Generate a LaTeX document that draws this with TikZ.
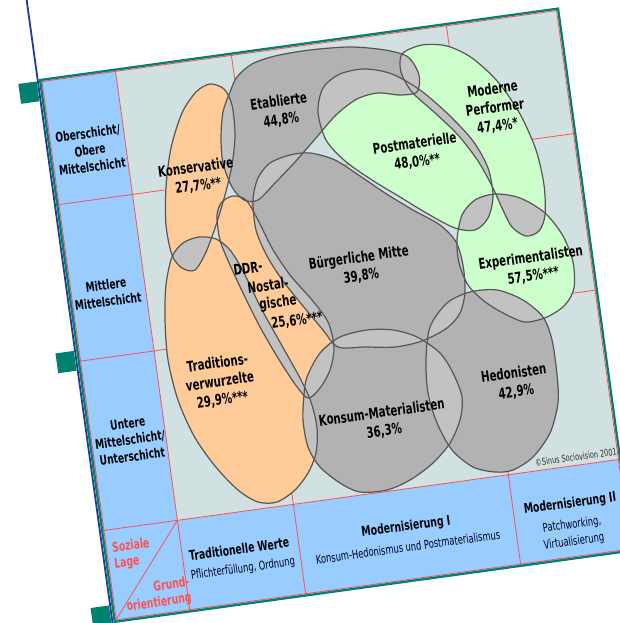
\documentclass[tikz,border=0pt]{standalone}
\usepackage{fontspec}
\setmainfont{DejaVu Sans}[FakeStretch=0.69]
\definecolor{bgc}{HTML}{D1E0E0}
\definecolor{cellc}{HTML}{99CCFF}
\definecolor{orc}{HTML}{FFCC99}
\definecolor{grc}{HTML}{CCFFCC}
\definecolor{gyc}{HTML}{B2B2B2}
\definecolor{ovc}{HTML}{C2C2C2}
\definecolor{outc}{HTML}{555555}
\definecolor{tealc}{HTML}{00806E}
\definecolor{navyc}{HTML}{1F3C96}
\definecolor{redc}{HTML}{FF5050}
% shapes (image pixel coordinates)
\expandafter\def\csname sh1\endcsname{plot[smooth cycle] coordinates {(210,84) (224,89) (232,105) (235,135) (232,165) (225,195) (216,225) (206,252) (195,270) (182,268) (172,255) (166,225) (166,187) (171,148) (182,113) (196,92)}}
\expandafter\def\csname sh2\endcsname{plot[smooth cycle] coordinates {(230,92) (237,77) (252,64) (275,56) (310,50) (350,47) (385,50) (408,57) (419,75) (417,92) (400,95) (378,93) (357,99) (336,115) (316,138) (295,162) (275,183) (258,200) (244,200) (232,187) (223,163) (221,138) (223,112)}}
\expandafter\def\csname sh3\endcsname{plot[smooth cycle] coordinates {(318,112) (323,88) (340,74) (365,69) (392,74) (420,90) (448,114) (473,141) (488,168) (493,196) (488,218) (475,230) (455,228) (428,214) (400,197) (372,180) (345,161) (326,140)}}
\expandafter\def\csname sh4\endcsname{plot[smooth cycle] coordinates {(402,54) (422,45) (447,46) (472,58) (498,82) (520,114) (536,150) (544,185) (545,215) (539,231) (526,236) (512,227) (502,208) (492,186) (478,161) (458,135) (434,112) (412,92) (401,72)}}
\expandafter\def\csname sh5\endcsname{plot[smooth cycle] coordinates {(253,200) (258,178) (270,163) (290,155) (310,153) (335,160) (360,176) (385,193) (413,210) (440,225) (456,242) (463,265) (465,292) (460,313) (447,328) (422,341) (395,347) (365,347) (338,347) (323,330) (303,306) (283,281) (267,256) (256,230)}}
\expandafter\def\csname sh6\endcsname{plot[smooth cycle] coordinates {(233,196) (246,200) (258,220) (272,248) (290,275) (312,300) (328,322) (334,347) (330,370) (320,388) (308,398) (295,384) (278,358) (260,327) (244,295) (230,265) (220,240) (217,215) (222,202)}}
\expandafter\def\csname sh7\endcsname{plot[smooth cycle] coordinates {(172,257) (183,243) (199,237) (216,239) (230,250) (243,271) (261,308) (281,344) (300,378) (311,402) (317,428) (316,453) (308,473) (295,490) (277,502) (258,502) (238,490) (215,466) (194,436) (178,400) (168,360) (165,320) (166,285)}}
\expandafter\def\csname sh8\endcsname{plot[smooth cycle] coordinates {(307,377) (320,353) (340,337) (367,330) (393,330) (417,337) (440,353) (453,373) (462,397) (460,420) (450,443) (433,463) (410,480) (387,490) (360,492) (340,483) (320,467) (308,447) (303,420) (304,395)}}
\expandafter\def\csname sh9\endcsname{plot[smooth cycle] coordinates {(430,327) (447,303) (470,292) (497,290) (523,300) (543,317) (552,340) (557,375) (558,403) (550,433) (533,457) (513,470) (495,472) (473,467) (452,450) (437,423) (428,393) (426,360)}}
\expandafter\def\csname sh10\endcsname{plot[smooth cycle] coordinates {(457,240) (462,215) (475,200) (495,194) (520,198) (545,213) (563,236) (573,262) (574,288) (565,305) (547,317) (525,322) (503,313) (484,301) (468,285) (459,263)}}
\tikzset{
  rt/.style={rotate=7.85},
  lab/.style={rt, align=center, inner sep=0pt, text=black, font=\fontsize{14.8}{18.5}\selectfont\bfseries},
  side/.style={rt, align=center, inner sep=0pt, text=black, font=\fontsize{13.2}{16.7}\selectfont\bfseries},
  head/.style={rt, inner sep=0pt, text=black, font=\fontsize{13.5}{15}\selectfont\bfseries},
  sub/.style={rt, inner sep=0pt, text=black!85!blue, font=\fontsize{12.1}{17}\selectfont},
  redlab/.style={rt, inner sep=0pt, text=redc, font=\fontsize{13.4}{16}\selectfont\bfseries},
  gridl/.style={redc, line width=0.8pt},
  outl/.style={outc, line width=1.2pt}
}
\begin{document}
\begin{tikzpicture}[x=1pt,y=-1pt]
\useasboundingbox (0,0) rectangle (620,623);
\clip (0,0) rectangle (620,623);
\fill[white] (0,0) rectangle (620,623);
% rotated frame
\begin{scope}[shift={(40,80)}, rotate=7.85]
  \fill[bgc] (0,0) rectangle (523,547);
  \fill[cellc] (0,0) rectangle (76,547);
  \fill[cellc] (0,455) rectangle (523,547);
  \draw[gridl] (76,0) -- (76,547);
  \draw[gridl] (193,0) -- (193,547);
  \draw[gridl] (410,0) -- (410,547);
  \draw[gridl] (0,126) -- (523,126);
  \draw[gridl] (0,284) -- (523,284);
  \draw[gridl] (0,455) -- (523,455);
  \draw[gridl] (76,455) -- (0,547);
  \draw[gridl] (1.8,1.8) rectangle (521.2,545.2);
  \draw[tealc, line width=2.2pt] (0,0) rectangle (523,547);
  \draw[navyc, line width=1.8pt] (-2.3,-95) -- (-2.3,560);
  \fill[tealc] (-22,1) rectangle (-3.5,21);
  \fill[tealc] (-22,273) rectangle (-3.5,293);
  \fill[tealc] (-22,530) rectangle (-3.5,550);
\end{scope}
% milieu shapes
\fill[orc] \csname sh1\endcsname;
\fill[gyc] \csname sh2\endcsname;
\fill[grc] \csname sh3\endcsname;
\fill[grc] \csname sh4\endcsname;
\fill[gyc] \csname sh5\endcsname;
\fill[orc] \csname sh6\endcsname;
\fill[orc] \csname sh7\endcsname;
\fill[gyc] \csname sh8\endcsname;
\fill[gyc] \csname sh9\endcsname;
\fill[grc] \csname sh10\endcsname;
% overlaps
\foreach \i in {1,...,10}{
  \foreach \j in {1,...,10}{
    \ifnum\j>\i
      \expandafter\let\expandafter\pA\csname sh\i\endcsname
      \expandafter\let\expandafter\pB\csname sh\j\endcsname
      \begin{scope}
        \clip \pA;
        \fill[ovc] \pB;
      \end{scope}
    \fi
  }
}
\foreach \i in {1,...,10}{
  \expandafter\let\expandafter\pA\csname sh\i\endcsname
  \draw[outl] \pA;
}
% labels
\node[side] (ober) at (90,150) {Oberschicht/\\Obere\\Mittelschicht};
\node[side] (mitt) at (107,293) {Mittlere\\Mittelschicht};
\node[side] (unte) at (130,440) {Untere\\Mittelschicht/\\Unterschicht};
\node[lab] (kons) at (197,177) {Konservative\\27,7\%**};
\node[lab] (etab) at (280,111) {Etablierte\\44,8\%};
\node[lab] (post) at (416,153) {Postmaterielle\\48,0\%**};
\node[lab] (mode) at (495,108) {Moderne\\Performer\\47,4\%*};
\node[lab] (buer) at (360,267) {Bürgerliche Mitte\\39,8\%};
\node[lab] (expe) at (532,267) {Experimentalisten\\57,5\%***};
\node[lab] (ddra) at (248,268) {DDR-};
\node[lab] (ddrb) at (268,285) {Nostal-};
\node[lab] (ddrc) at (278,303) {gische};
\node[lab] (ddrd) at (297,321) {25,6\%***};
\node[lab] (trad) at (220,382) {Traditions-\\verwurzelte\\29,9\%***};
\node[lab] (kons2) at (383,422) {Konsum-Materialisten\\36,3\%};
\node[lab] (hedo) at (515,383) {Hedonisten\\42,9\%};
\node[rt, inner sep=0pt, text=black!80, font=\fontsize{9.5}{11}\selectfont] (copy) at (576,457) {©Sinus Sociovision 2001};
\node[redlab, align=left] (soz) at (132,554) {Soziale\\Lage};
\node[redlab, align=right] (grund) at (158,595) {Grund-\\orientierung};
\node[head] (tw1) at (239,549) {Traditionelle Werte};
\node[sub] (tw2) at (243,569) {Pflichterfüllung, Ordnung};
\node[head] (m1a) at (406,527) {Modernisierung I};
\node[sub] (m1b) at (408,547) {Konsum-Hedonismus und Postmaterialismus};
\node[head] (m2a) at (570,504) {Modernisierung II};
\node[sub] (m2b) at (572,525) {Patchworking,};
\node[sub] (m2c) at (574,542) {Virtualisierung};
\end{tikzpicture}
\end{document}
